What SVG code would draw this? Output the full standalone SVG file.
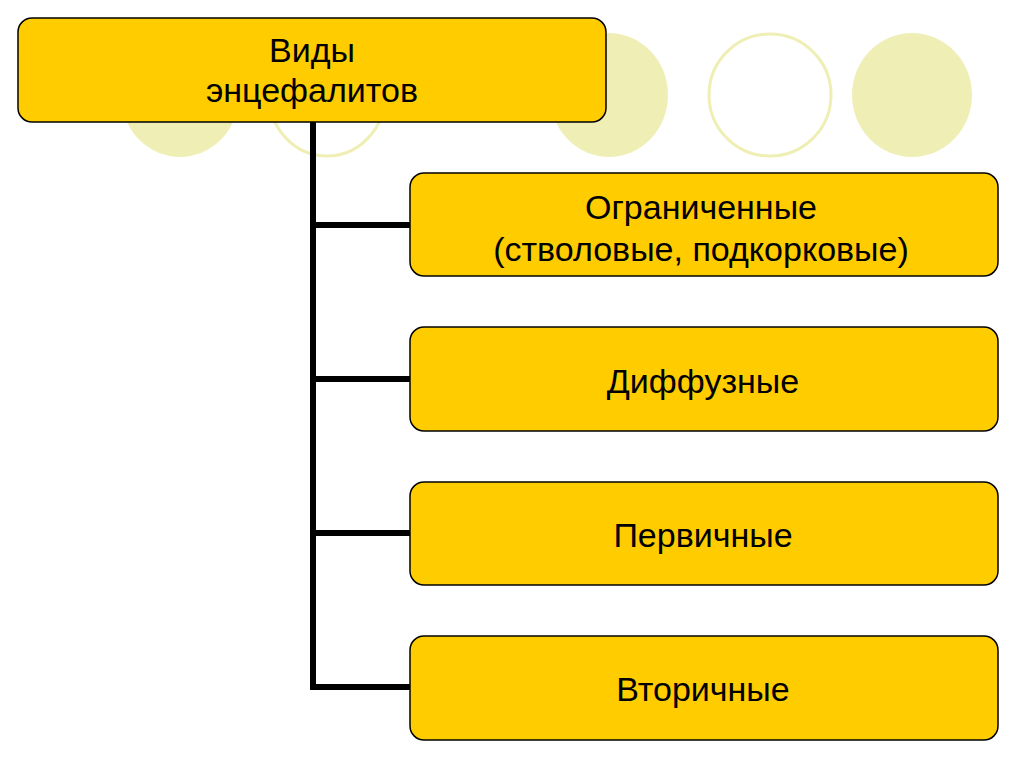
<svg xmlns="http://www.w3.org/2000/svg" width="1024" height="767" viewBox="0 0 1024 767">
<style>
.dec{fill:#EFEFB5;}
.deco{fill:#FFFFFF;stroke:#EFEFB5;stroke-width:3;}
.box{fill:#FFCC00;stroke:#000;stroke-width:1.5;}
.t{font-family:"Liberation Sans",Arial,sans-serif;font-size:34px;fill:#000;text-anchor:middle;}
.c{stroke:#000;stroke-width:6;fill:none;}
</style>
<rect width="1024" height="767" fill="#FFFFFF"/>
<g id="decor">
<ellipse class="dec" cx="180" cy="95" rx="59" ry="62"/>
<ellipse class="deco" cx="327" cy="95" rx="58" ry="61"/>
<ellipse class="dec" cx="609" cy="95" rx="59" ry="62"/>
<ellipse class="deco" cx="770" cy="95" rx="61" ry="61"/>
<ellipse class="dec" cx="912" cy="95" rx="60" ry="62"/>
</g>
<g id="connectors">
<path class="c" d="M313,122 V690"/>
<path class="c" d="M310,225 H410"/>
<path class="c" d="M310,379 H410"/>
<path class="c" d="M310,533 H410"/>
<path class="c" d="M310,687 H410"/>
</g>
<g id="root">
<rect class="box" x="18" y="18" width="588" height="104" rx="14"/>
<text class="t" x="312" y="62">Виды</text>
<text class="t" x="312" y="102">энцефалитов</text>
</g>
<g id="n1">
<rect class="box" x="410" y="173" width="588" height="103" rx="14"/>
<text class="t" x="701" y="219">Ограниченные</text>
<text class="t" x="701" y="261">(стволовые, подкорковые)</text>
</g>
<g id="n2">
<rect class="box" x="410" y="327" width="588" height="104" rx="14"/>
<text class="t" x="703" y="393">Диффузные</text>
</g>
<g id="n3">
<rect class="box" x="410" y="482" width="588" height="103" rx="14"/>
<text class="t" x="703" y="547">Первичные</text>
</g>
<g id="n4">
<rect class="box" x="410" y="636" width="588" height="104" rx="14"/>
<text class="t" x="703" y="701">Вторичные</text>
</g>
</svg>
